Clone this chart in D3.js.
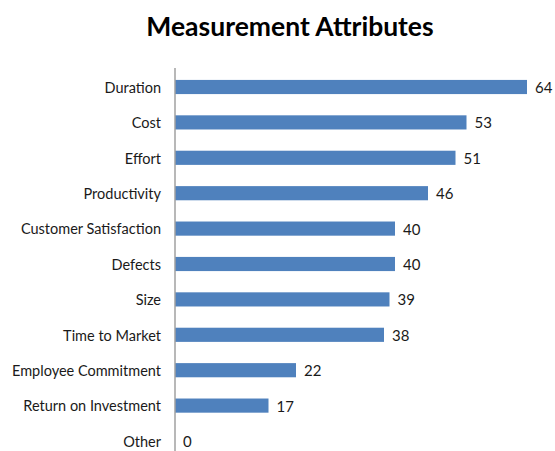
<!DOCTYPE html>
<html><head><meta charset="utf-8">
<script src="https://cdn.jsdelivr.net/npm/d3@7"></script>
<style>body{margin:0;background:#fff;} text{font-family:Lato, "Open Sans", sans-serif;}</style>
</head><body>
<svg id="c" width="555" height="451"></svg>
<script>
const categories = ["Duration","Cost","Effort","Productivity","Customer Satisfaction","Defects","Size","Time to Market","Employee Commitment","Return on Investment","Other"];
const values = [64,53,51,46,40,40,39,38,22,17,0];
const title = "Measurement Attributes";

const svg = d3.select("#c");
const x0 = 175, y0 = 68;
const x = d3.scaleLinear().domain([0,64]).range([x0, 527]);
const y = d3.scaleBand().domain(categories).range([69.3, 69.3 + 11*35.4]).paddingInner(0.6).paddingOuter(0.3);

svg.append("text").attr("x", 290).attr("y", 36).attr("text-anchor","middle")
  .attr("font-size", 26.5).attr("font-weight","bold").attr("fill","#000").text(title);

svg.selectAll("rect.bar").data(values).enter().append("rect")
  .attr("x", x(0)).attr("y", (d,i)=>y(categories[i]))
  .attr("width", d=>x(d)-x(0)).attr("height", y.bandwidth())
  .attr("fill","#4f81bd");

svg.append("line").attr("x1", x0).attr("x2", x0).attr("y1", y0).attr("y2", 451)
  .attr("stroke","#a0a0a0").attr("stroke-width",1.5);

svg.selectAll("text.cat").data(categories).enter().append("text")
  .attr("x", 161).attr("y", d=>y(d)+y.bandwidth()/2).attr("dy","0.4em")
  .attr("text-anchor","end").attr("font-size",14.5).attr("fill","#1a1a1a").text(d=>d);

svg.selectAll("text.val").data(values).enter().append("text")
  .attr("x", d=>x(d)+8).attr("y", (d,i)=>y(categories[i])+y.bandwidth()/2).attr("dy","0.4em")
  .attr("font-size",15).attr("fill","#1a1a1a").text(d=>d);
</script>
</body></html>
